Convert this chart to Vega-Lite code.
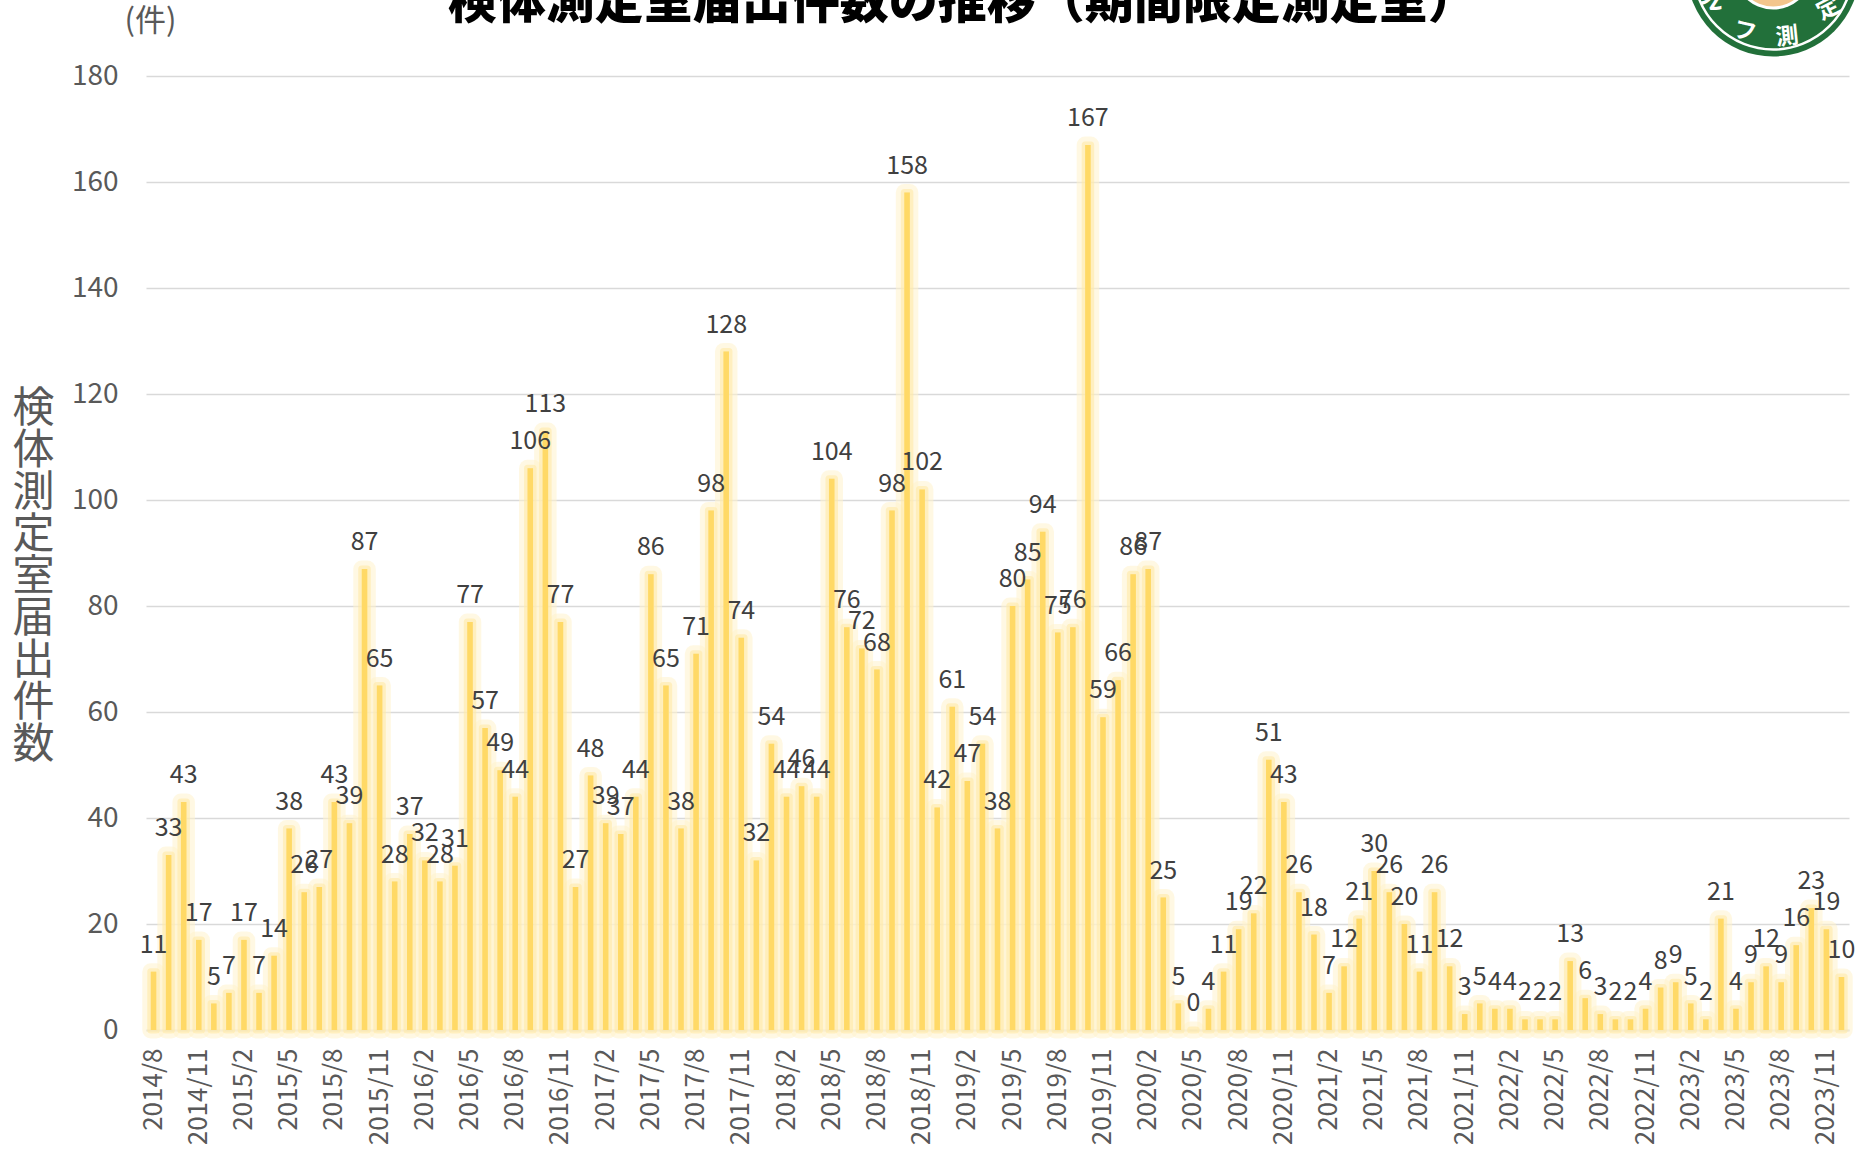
{
  "$schema": "https://vega.github.io/schema/vega-lite/v6.json",
  "width": 1703,
  "height": 1030,
  "autosize": {"type": "none"},
  "padding": {"left": 146, "top": 0, "right": 16, "bottom": 123},
  "background": "white",
  "config": {
    "view": {"stroke": null},
    "font": "Noto Sans CJK JP",
    "axisY": {"grid": true, "gridColor": "#D9D9D9", "gridWidth": 1.5, "domain": false, "ticks": false, "labelFontSize": 28, "labelColor": "#595959", "labelPadding": 28},
    "axisX": {"grid": false, "domain": true, "domainColor": "#D9D9D9", "domainWidth": 2, "ticks": false, "labelAngle": -90, "labelFontSize": 26, "labelColor": "#595959", "labelPadding": 18, "zindex": 1}
  },
  "data": {"values": [
    {"month": "2014/8", "count": 11}, {"month": "2014/9", "count": 33}, {"month": "2014/10", "count": 43}, {"month": "2014/11", "count": 17}, {"month": "2014/12", "count": 5},
    {"month": "2015/1", "count": 7}, {"month": "2015/2", "count": 17}, {"month": "2015/3", "count": 7}, {"month": "2015/4", "count": 14}, {"month": "2015/5", "count": 38}, {"month": "2015/6", "count": 26}, {"month": "2015/7", "count": 27}, {"month": "2015/8", "count": 43}, {"month": "2015/9", "count": 39}, {"month": "2015/10", "count": 87}, {"month": "2015/11", "count": 65}, {"month": "2015/12", "count": 28},
    {"month": "2016/1", "count": 37}, {"month": "2016/2", "count": 32}, {"month": "2016/3", "count": 28}, {"month": "2016/4", "count": 31}, {"month": "2016/5", "count": 77}, {"month": "2016/6", "count": 57}, {"month": "2016/7", "count": 49}, {"month": "2016/8", "count": 44}, {"month": "2016/9", "count": 106}, {"month": "2016/10", "count": 113}, {"month": "2016/11", "count": 77}, {"month": "2016/12", "count": 27},
    {"month": "2017/1", "count": 48}, {"month": "2017/2", "count": 39}, {"month": "2017/3", "count": 37}, {"month": "2017/4", "count": 44}, {"month": "2017/5", "count": 86}, {"month": "2017/6", "count": 65}, {"month": "2017/7", "count": 38}, {"month": "2017/8", "count": 71}, {"month": "2017/9", "count": 98}, {"month": "2017/10", "count": 128}, {"month": "2017/11", "count": 74}, {"month": "2017/12", "count": 32},
    {"month": "2018/1", "count": 54}, {"month": "2018/2", "count": 44}, {"month": "2018/3", "count": 46}, {"month": "2018/4", "count": 44}, {"month": "2018/5", "count": 104}, {"month": "2018/6", "count": 76}, {"month": "2018/7", "count": 72}, {"month": "2018/8", "count": 68}, {"month": "2018/9", "count": 98}, {"month": "2018/10", "count": 158}, {"month": "2018/11", "count": 102}, {"month": "2018/12", "count": 42},
    {"month": "2019/1", "count": 61}, {"month": "2019/2", "count": 47}, {"month": "2019/3", "count": 54}, {"month": "2019/4", "count": 38}, {"month": "2019/5", "count": 80}, {"month": "2019/6", "count": 85}, {"month": "2019/7", "count": 94}, {"month": "2019/8", "count": 75}, {"month": "2019/9", "count": 76}, {"month": "2019/10", "count": 167}, {"month": "2019/11", "count": 59}, {"month": "2019/12", "count": 66},
    {"month": "2020/1", "count": 86}, {"month": "2020/2", "count": 87}, {"month": "2020/3", "count": 25}, {"month": "2020/4", "count": 5}, {"month": "2020/5", "count": 0}, {"month": "2020/6", "count": 4}, {"month": "2020/7", "count": 11}, {"month": "2020/8", "count": 19}, {"month": "2020/9", "count": 22}, {"month": "2020/10", "count": 51}, {"month": "2020/11", "count": 43}, {"month": "2020/12", "count": 26},
    {"month": "2021/1", "count": 18}, {"month": "2021/2", "count": 7}, {"month": "2021/3", "count": 12}, {"month": "2021/4", "count": 21}, {"month": "2021/5", "count": 30}, {"month": "2021/6", "count": 26}, {"month": "2021/7", "count": 20}, {"month": "2021/8", "count": 11}, {"month": "2021/9", "count": 26}, {"month": "2021/10", "count": 12}, {"month": "2021/11", "count": 3}, {"month": "2021/12", "count": 5},
    {"month": "2022/1", "count": 4}, {"month": "2022/2", "count": 4}, {"month": "2022/3", "count": 2}, {"month": "2022/4", "count": 2}, {"month": "2022/5", "count": 2}, {"month": "2022/6", "count": 13}, {"month": "2022/7", "count": 6}, {"month": "2022/8", "count": 3}, {"month": "2022/9", "count": 2}, {"month": "2022/10", "count": 2}, {"month": "2022/11", "count": 4}, {"month": "2022/12", "count": 8},
    {"month": "2023/1", "count": 9}, {"month": "2023/2", "count": 5}, {"month": "2023/3", "count": 2}, {"month": "2023/4", "count": 21}, {"month": "2023/5", "count": 4}, {"month": "2023/6", "count": 9}, {"month": "2023/7", "count": 12}, {"month": "2023/8", "count": 9}, {"month": "2023/9", "count": 16}, {"month": "2023/10", "count": 23}, {"month": "2023/11", "count": 19}, {"month": "2023/12", "count": 10}
  ]},
  "encoding": {
    "x": {"field": "month", "type": "ordinal", "sort": null,
      "scale": {"paddingInner": 0, "paddingOuter": 0},
      "axis": {"title": null, "values": ["2014/8","2014/11","2015/2","2015/5","2015/8","2015/11","2016/2","2016/5","2016/8","2016/11","2017/2","2017/5","2017/8","2017/11","2018/2","2018/5","2018/8","2018/11","2019/2","2019/5","2019/8","2019/11","2020/2","2020/5","2020/8","2020/11","2021/2","2021/5","2021/8","2021/11","2022/2","2022/5","2022/8","2022/11","2023/2","2023/5","2023/8","2023/11"]}},
    "y": {"field": "count", "type": "quantitative",
      "scale": {"domain": [0, 194.34], "nice": false, "zero": true},
      "axis": {"values": [0,20,40,60,80,100,120,140,160,180],
        "title": ["検","体","測","定","室","届","出","件","数"],
        "titleAngle": 0, "titleFontSize": 42, "titleFontWeight": "normal", "titleColor": "#595959", "titleLineHeight": 42,
        "titleX": -113, "titleY": 408, "titleAlign": "center", "titleBaseline": "middle"}}
  },
  "layer": [
    {"mark": {"type": "bar", "width": 5.5, "fill": "#FFF2CC", "fillOpacity": 0.6, "stroke": "#FFF2CC", "strokeWidth": 17, "strokeOpacity": 0.55, "strokeJoin": "round"}},
    {"mark": {"type": "bar", "width": 5.5, "fill": "#FFE9A6", "stroke": "#FFE9A6", "strokeWidth": 7, "strokeOpacity": 0.6, "strokeJoin": "round"}},
    {"mark": {"type": "bar", "width": 5.5, "fill": "#FFD966"}},
    {"mark": {"type": "text", "fontSize": 25, "color": "#404040", "baseline": "alphabetic", "align": "center", "dy": -19},
     "encoding": {"text": {"field": "count", "type": "quantitative"}}},
    {"transform": [{"filter": "datum.month === '2014/8'"}],
     "mark": {"type": "text", "text": "(件)", "fontSize": 31, "color": "#595959", "baseline": "middle", "align": "center", "dx": -3},
     "encoding": {"y": {"datum": 190.2}}},
    {"transform": [{"filter": "datum.month === '2019/1'"}],
     "mark": {"type": "text", "text": "検体測定室届出件数の推移（期間限定測定室）", "fontSize": 49, "fontWeight": 900, "color": "#000000", "baseline": "alphabetic", "align": "center", "dx": 10},
     "encoding": {"y": {"datum": 190.9}}},
    {"transform": [{"filter": "datum.month === '2023/7'"}],
     "mark": {"type": "point", "shape": "circle", "filled": true, "size": 29929, "color": "#22703A", "opacity": 1, "xOffset": 7},
     "encoding": {"y": {"datum": 200}}},
    {"transform": [{"filter": "datum.month === '2023/7'"}],
     "mark": {"type": "point", "shape": "circle", "filled": false, "size": 25281, "stroke": "#FFFFFF", "strokeWidth": 2.5, "opacity": 1, "xOffset": 7},
     "encoding": {"y": {"datum": 200}}},
    {"transform": [{"filter": "datum.month === '2023/7'"}],
     "mark": {"type": "point", "shape": "circle", "filled": true, "size": 6241, "color": "#FFFFFF", "opacity": 1, "xOffset": 7},
     "encoding": {"y": {"datum": 200}}},
    {"transform": [{"filter": "datum.month === '2023/7'"}],
     "mark": {"type": "point", "shape": "circle", "filled": true, "size": 5329, "color": "#F3C58C", "opacity": 1, "xOffset": 7},
     "encoding": {"y": {"datum": 200}}},
    {"transform": [{"filter": "datum.month === '2023/7'"}],
     "mark": {"type": "text", "text": "セ", "fontSize": 23, "fontWeight": "bold", "color": "#FFFFFF", "baseline": "middle", "align": "center", "angle": 50, "dx": -45, "dy": 46},
     "encoding": {"y": {"datum": 200}}},
    {"transform": [{"filter": "datum.month === '2023/7'"}],
     "mark": {"type": "text", "text": "ル", "fontSize": 23, "fontWeight": "bold", "color": "#FFFFFF", "baseline": "middle", "align": "center", "angle": 33, "dx": -27, "dy": 56},
     "encoding": {"y": {"datum": 200}}},
    {"transform": [{"filter": "datum.month === '2023/7'"}],
     "mark": {"type": "text", "text": "フ", "fontSize": 23, "fontWeight": "bold", "color": "#FFFFFF", "baseline": "middle", "align": "center", "angle": 13, "dx": -7, "dy": 65},
     "encoding": {"y": {"datum": 200}}},
    {"transform": [{"filter": "datum.month === '2023/7'"}],
     "mark": {"type": "text", "text": "測", "fontSize": 23, "fontWeight": "bold", "color": "#FFFFFF", "baseline": "middle", "align": "center", "angle": -6, "dx": 14, "dy": 69},
     "encoding": {"y": {"datum": 200}}},
    {"transform": [{"filter": "datum.month === '2023/7'"}],
     "mark": {"type": "text", "text": "定", "fontSize": 23, "fontWeight": "bold", "color": "#FFFFFF", "baseline": "middle", "align": "center", "angle": -27, "dx": 38, "dy": 63},
     "encoding": {"y": {"datum": 200}}},
    {"transform": [{"filter": "datum.month === '2023/7'"}],
     "mark": {"type": "text", "text": "室", "fontSize": 23, "fontWeight": "bold", "color": "#FFFFFF", "baseline": "middle", "align": "center", "angle": -50, "dx": 61, "dy": 48},
     "encoding": {"y": {"datum": 200}}}
  ]
}
